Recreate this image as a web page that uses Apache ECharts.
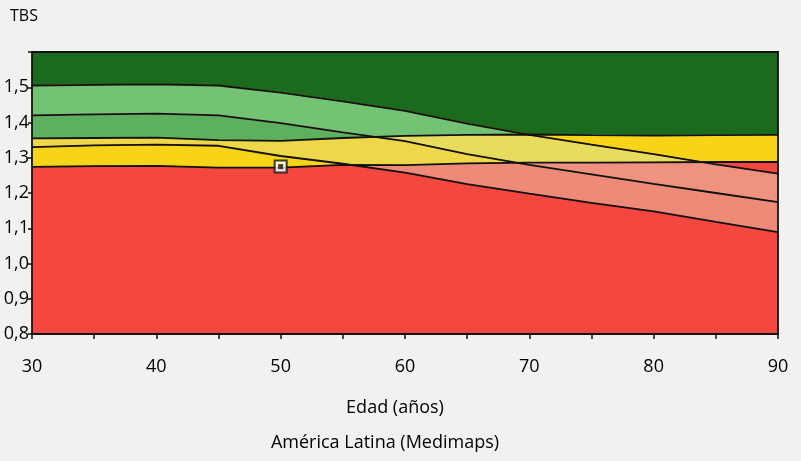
<!DOCTYPE html>
<html>
<head>
<meta charset="utf-8">
<script src="https://cdn.jsdelivr.net/npm/echarts@6/dist/echarts.min.js"></script>
<style>
html,body{margin:0;padding:0;background:#f1f1f0;}
#chart{width:801px;height:461px;}
</style>
</head>
<body>
<div id="chart"></div>
<script>
// ---- data ----
const ages        = [30, 35, 40, 45, 50, 55, 60, 65, 70, 75, 80, 85, 90];
// fixed-threshold boundaries (green/yellow, yellow/red)
const threshHigh  = [1.355, 1.356, 1.357, 1.350, 1.348, 1.356, 1.362, 1.365, 1.366, 1.364, 1.363, 1.364, 1.365];
const threshLow   = [1.274, 1.276, 1.277, 1.272, 1.272, 1.280, 1.279, 1.284, 1.286, 1.286, 1.287, 1.288, 1.288];
// age-dependent reference band (upper, middle, lower)
const refUpper    = [1.505, 1.507, 1.508, 1.505, 1.485, 1.460, 1.433, 1.397, 1.365, 1.337, 1.310, 1.281, 1.255];
const refMid      = [1.420, 1.423, 1.425, 1.420, 1.398, 1.372, 1.347, 1.310, 1.280, 1.253, 1.226, 1.200, 1.174];
const refLower    = [1.330, 1.335, 1.337, 1.334, 1.305, 1.283, 1.258, 1.225, 1.198, 1.172, 1.148, 1.118, 1.089];
const patient     = [[50, 1.275]];
const yTicks      = [0.8, 0.9, 1.0, 1.1, 1.2, 1.3, 1.4, 1.5];
const xTickLabels = [30, 40, 50, 60, 70, 80, 90];
const Y_MIN = 0.8, Y_MAX = 1.6;

// ---- colours for each combination (threshold zone x reference zone) ----
const zoneColors = {
  G: {above: '#1b6a1d', A: '#74c274', B: '#5db15e', below: '#1b6a1d'},
  Y: {above: '#f7d417', A: '#e7dc5d', B: '#eed748', below: '#f7d417'},
  R: {above: '#f4473f', A: '#f09280', B: '#ee8a78', below: '#f4473f'}
};

function valAt(arr, x) {
  for (let i = 0; i < ages.length - 1; i++) {
    if (x <= ages[i + 1] + 1e-9) {
      const t = (x - ages[i]) / (ages[i + 1] - ages[i]);
      return arr[i] + t * (arr[i + 1] - arr[i]);
    }
  }
  return arr[arr.length - 1];
}
const fTop = () => Y_MAX, fBot = () => Y_MIN;
const fArr = arr => (x => valAt(arr, x));
const zones1 = {
  G: [fArr(threshHigh), fTop],
  Y: [fArr(threshLow), fArr(threshHigh)],
  R: [fBot, fArr(threshLow)]
};
const zones2 = {
  above: [fArr(refUpper), fTop],
  A: [fArr(refMid), fArr(refUpper)],
  B: [fArr(refLower), fArr(refMid)],
  below: [fBot, fArr(refLower)]
};

// breakpoints: data ages plus exact crossings of the straight segments
function breakpoints() {
  const all = [threshHigh, threshLow, refUpper, refMid, refLower];
  const xs = [];
  for (let i = 0; i < ages.length - 1; i++) {
    xs.push(ages[i]);
    for (let p = 0; p < all.length; p++) for (let q = p + 1; q < all.length; q++) {
      const d0 = all[p][i] - all[q][i], d1 = all[p][i + 1] - all[q][i + 1];
      if (d0 * d1 < 0) {
        const t = d0 / (d0 - d1);
        xs.push(ages[i] + t * (ages[i + 1] - ages[i]));
      }
    }
  }
  xs.push(ages[ages.length - 1]);
  return xs.sort((a, b) => a - b);
}
const XS = breakpoints();

function renderZones(params, api) {
  const children = [];
  for (const k1 in zones1) for (const k2 in zones2) {
    const [lo1, hi1] = zones1[k1], [lo2, hi2] = zones2[k2];
    const up = [], dn = [];
    let any = false;
    XS.forEach(x => {
      const lo = Math.max(lo1(x), lo2(x));
      let hi = Math.min(hi1(x), hi2(x));
      if (hi > lo + 1e-6) any = true;
      if (hi < lo) hi = lo;
      up.push(api.coord([x, hi]));
      dn.push(api.coord([x, lo]));
    });
    if (!any) continue;
    children.push({
      type: 'polygon',
      shape: {points: up.concat(dn.reverse())},
      style: {fill: zoneColors[k1][k2], stroke: zoneColors[k1][k2], lineWidth: 0.6}
    });
  }
  return {type: 'group', children};
}

function lineSeries(arr) {
  return {
    type: 'line', data: ages.map((a, i) => [a, arr[i]]),
    symbol: 'none', silent: true, z: 5,
    lineStyle: {color: '#111', width: 1.8}
  };
}

const FONT = 'Open Sans';
const chart = echarts.init(document.getElementById('chart'));
chart.setOption({
  backgroundColor: '#f1f1f0',
  animation: false,
  grid: {left: 32, right: 23, top: 52, bottom: 127},
  xAxis: [{
    type: 'value', min: 30, max: 90, interval: 5, z: 10,
    axisLine: {lineStyle: {color: '#111', width: 1.8}},
    axisTick: {length: 5, lineStyle: {color: '#111', width: 1.5}},
    axisLabel: {
      margin: 24, fontSize: 18, color: '#000', fontFamily: FONT,
      formatter: v => xTickLabels.includes(v) ? String(v) : ''
    },
    splitLine: {show: false}
  }, {
    type: 'value', min: 30, max: 90, position: 'top', z: 10,
    axisLine: {show: true, lineStyle: {color: '#111', width: 1.8}},
    axisTick: {show: false}, axisLabel: {show: false}, splitLine: {show: false}
  }],
  yAxis: [{
    type: 'value', min: Y_MIN, max: Y_MAX, interval: 0.1, z: 10,
    axisLine: {show: true, lineStyle: {color: '#111', width: 1.8}},
    axisTick: {show: true, length: 4, lineStyle: {color: '#111', width: 1.5}},
    axisLabel: {
      margin: 3, fontSize: 18, color: '#000', fontFamily: FONT,
      formatter: v => yTicks.some(t => Math.abs(t - v) < 1e-6) ? v.toFixed(1).replace('.', ',') : ''
    },
    splitLine: {show: false}
  }, {
    type: 'value', min: Y_MIN, max: Y_MAX, position: 'right', z: 10,
    axisLine: {show: true, lineStyle: {color: '#111', width: 1.8}},
    axisTick: {show: false}, axisLabel: {show: false}, splitLine: {show: false}
  }],
  graphic: [
    {type: 'text', left: 10, top: 8, style: {text: 'TBS', fontSize: 16, fontFamily: FONT, fill: '#000'}},
    {type: 'text', x: 395, y: 408, style: {text: 'Edad (años)', fontSize: 18, fontFamily: FONT, fill: '#000', textAlign: 'center', textVerticalAlign: 'middle'}},
    {type: 'text', x: 385, y: 443, style: {text: 'América Latina (Medimaps)', fontSize: 18, fontFamily: FONT, fill: '#000', textAlign: 'center', textVerticalAlign: 'middle'}}
  ],
  series: [
    {type: 'custom', data: [[30, 0.8]], renderItem: renderZones, silent: true, z: 1, clip: true},
    lineSeries(threshHigh),
    lineSeries(threshLow),
    lineSeries(refUpper),
    lineSeries(refMid),
    lineSeries(refLower),
    {type: 'scatter', data: patient, symbol: 'rect', symbolSize: 12, z: 8, silent: true,
     itemStyle: {color: '#ffffff', borderColor: '#111', borderWidth: 2}},
    {type: 'scatter', data: patient, symbol: 'rect', symbolSize: 5, z: 9, silent: true,
     itemStyle: {color: '#111'}}
  ]
});
</script>
</body>
</html>
